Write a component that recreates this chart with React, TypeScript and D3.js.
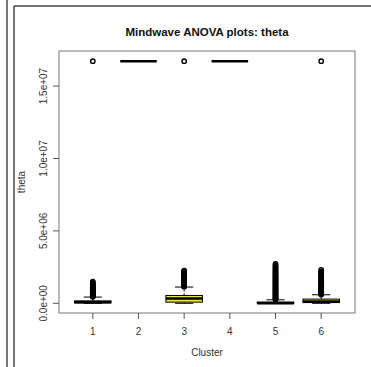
import React from 'react';
import * as d3 from 'd3';

// values, raw units
const clusters = [1, 2, 3, 4, 5, 6];
const lowerWhisker = [0, 16.72e6, 0, 16.72e6, 0, 0];
const q1 = [0.03e6, 16.72e6, 0.08e6, 16.72e6, 0.0, 0.05e6];
const median = [0.08e6, 16.72e6, 0.33e6, 16.72e6, 0.01e6, 0.13e6];
const q3 = [0.17e6, 16.72e6, 0.54e6, 16.72e6, 0.09e6, 0.29e6];
const upperWhisker = [0.43e6, 16.72e6, 1.12e6, 16.72e6, 0.24e6, 0.59e6];

// outliers in millions
const outliers1 = [0.45, 0.49, 0.52, 0.56, 0.6, 0.63, 0.67, 0.71, 0.75, 0.8, 0.84, 0.88, 0.93, 0.98, 1.03, 1.08, 1.12, 1.18, 1.24, 1.3, 1.37, 1.43, 1.5, 16.72];
const outliers2: number[] = [];
const outliers3 = [1.15, 1.19, 1.24, 1.28, 1.33, 1.38, 1.42, 1.47, 1.52, 1.57, 1.61, 1.66, 1.71, 1.76, 1.81, 1.86, 1.91, 1.96, 2.02, 2.08, 2.14, 2.2, 2.26, 16.72];
const outliers4: number[] = [];
const outliers5 = [0.25, 0.31, 0.37, 0.42, 0.48, 0.55, 0.61, 0.66, 0.73, 0.79, 0.85, 0.92, 0.98, 1.04, 1.11, 1.17, 1.24, 1.3, 1.36, 1.43, 1.5, 1.57, 1.63, 1.7, 1.77, 1.84, 1.91, 1.98, 2.05, 2.13, 2.2, 2.28, 2.36, 2.44, 2.52, 2.61, 2.72];
const outliers6 = [0.6, 0.65, 0.7, 0.76, 0.81, 0.87, 0.92, 0.98, 1.04, 1.1, 1.16, 1.22, 1.28, 1.34, 1.41, 1.47, 1.54, 1.6, 1.67, 1.74, 1.81, 1.88, 1.96, 2.04, 2.12, 2.2, 2.31, 16.72];
const outliers = [outliers1, outliers2, outliers3, outliers4, outliers5, outliers6];

const yTicks = [0, 5e6, 1e7, 1.5e7];
const yTickLabels = ['0.0e+00', '5.0e+06', '1.0e+07', '1.5e+07'];

const W = 371;
const H = 367;
const plot = { left: 59, right: 355, top: 51, bottom: 313 };
const font = 'Liberation Sans, Arial, Helvetica, sans-serif';
const boxFill = '#eaea2a';

export default function App() {
  const x = d3.scaleLinear().domain([0.26, 6.74]).range([plot.left, plot.right]);
  const y = d3.scaleLinear().domain([-0.67e6, 17.42e6]).range([plot.bottom, plot.top]);
  const bw = (x(2) - x(1)) * 0.8;

  return (
    <div style={{ position: 'fixed', left: 0, top: 0, width: W, height: H, background: '#fff' }}>
      <svg width={W} height={H} viewBox={`0 0 ${W} ${H}`} style={{ display: 'block' }}>
        <rect width={W} height={H} fill="#fff" />
        {/* panel frame */}
        <line x1={7} x2={7} y1={0} y2={H} stroke="#555" strokeWidth={1.6} />
        <line x1={14} x2={14} y1={6} y2={H} stroke="#555" strokeWidth={1.6} />
        <line x1={14} x2={W} y1={6} y2={6} stroke="#444" strokeWidth={1.6} />

        <text x={(plot.left + plot.right) / 2} y={36} textAnchor="middle" fontFamily={font}
          fontWeight="bold" fontSize={11.5} fill="#111">Mindwave ANOVA plots: theta</text>

        {/* boxes */}
        {clusters.map((c, i) => {
          const cx = x(c);
          return (
            <g key={c}>
              <line x1={cx} x2={cx} y1={y(q3[i])} y2={y(upperWhisker[i])} stroke="#000" strokeDasharray="2,2" />
              <line x1={cx} x2={cx} y1={y(q1[i])} y2={y(lowerWhisker[i])} stroke="#000" strokeDasharray="2,2" />
              <line x1={cx - bw / 4} x2={cx + bw / 4} y1={y(upperWhisker[i])} y2={y(upperWhisker[i])} stroke="#000" />
              <line x1={cx - bw / 4} x2={cx + bw / 4} y1={y(lowerWhisker[i])} y2={y(lowerWhisker[i])} stroke="#000" />
              <rect x={cx - bw / 2} y={y(q3[i])} width={bw} height={Math.max(0, y(q1[i]) - y(q3[i]))}
                fill={boxFill} stroke="#000" strokeWidth={1} />
              <line x1={cx - bw / 2} x2={cx + bw / 2} y1={y(median[i])} y2={y(median[i])} stroke="#000" strokeWidth={2.5} />
              {outliers[i].map((v, j) => (
                <circle key={j} cx={cx} cy={y(v * 1e6)} r={2.2} fill="none" stroke="#000" strokeWidth={1.4} />
              ))}
            </g>
          );
        })}

        {/* plot box */}
        <rect x={plot.left} y={plot.top} width={plot.right - plot.left} height={plot.bottom - plot.top}
          fill="none" stroke="#777" strokeWidth={1} />

        {/* x axis */}
        {clusters.map((c) => (
          <g key={c} transform={`translate(${x(c)},${plot.bottom})`}>
            <line y1={0} y2={6} stroke="#555" />
            <text y={22} textAnchor="middle" fontFamily={font} fontSize={10} fill="#333">{c}</text>
          </g>
        ))}
        <text x={(plot.left + plot.right) / 2} y={356} textAnchor="middle" fontFamily={font} fontSize={10} fill="#333">Cluster</text>

        {/* y axis */}
        {yTicks.map((t, i) => (
          <g key={t} transform={`translate(${plot.left},${y(t)})`}>
            <line x1={-6} x2={0} stroke="#555" />
            <text transform="translate(-12,0) rotate(-90)" textAnchor="middle" fontFamily={font} fontSize={10} fill="#333">{yTickLabels[i]}</text>
          </g>
        ))}
        <text transform={`translate(25,${(plot.top + plot.bottom) / 2}) rotate(-90)`} textAnchor="middle"
          fontFamily={font} fontSize={10} fill="#333">theta</text>
      </svg>
    </div>
  );
}
